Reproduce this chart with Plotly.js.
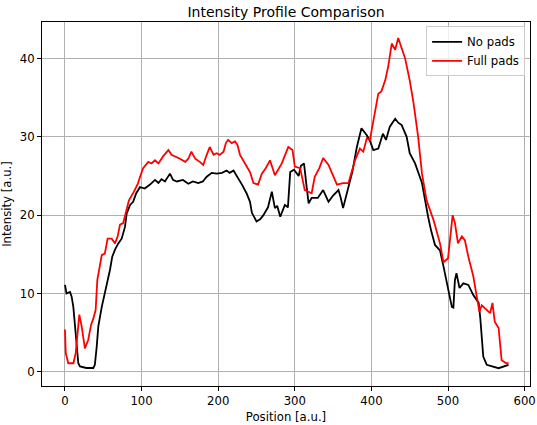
<!DOCTYPE html>
<html>
<head>
<meta charset="utf-8">
<script src="https://cdn.plot.ly/plotly-3.0.1.min.js"></script>
<style>html,body{margin:0;padding:0;background:#fff;}#chart{width:537px;height:425px;}</style>
</head>
<body>
<div id="chart"></div>
<script>
const noPadsX = [0,2,6.5,8.7,10.9,14,17.4,19.6,28,37,39,41.4,43.5,48,51,54.4,58.7,61.7,65.3,69.6,74,78.3,80.5,85,89,93,98,104,111,117.5,122,126,130.5,137,141,146,154,161,167,174,180,185,191.5,198,205,211,215,220,224,228.5,231,237,241.5,244,250,255,259,265,270,274,277,281,287,291,294,299,305,308,312,315,318,322,330,337,344,350,357,360,363,370,375,381,387,394,398,402.5,409,415,419,424,431,435,439.5,446,450,457,466,474,478,483,489.5,494,498,505,507,509,511,515,520,526.5,533,540,542,544,546,550.5,566,579];
const noPadsY = [11.1,10.0,10.2,9.6,8.3,4.9,1.1,0.7,0.5,0.5,0.9,3.2,5.8,8.3,9.6,11.3,13,14.7,15.6,16.4,17,18.5,20.2,21.3,21.7,22.8,23.6,23.4,23.9,24.5,24.1,24.6,24.3,25.3,24.5,24.3,24.5,24,24.3,24.1,24.3,24.9,25.4,25.3,25.4,25.7,25.4,25.7,25.1,24.3,23.9,22.8,21.7,20.3,19.2,19.5,20,21,23,20.9,21.2,19.8,21.3,21,25.5,25.8,25,26.3,26.6,24,21.5,22.2,22.2,23.2,21.7,22.5,23.2,22.2,20.9,23.6,25.5,28.7,31.1,30.2,29.5,28.3,28.5,30.4,29.6,31.3,32.3,31.8,31.5,30,27.9,26.6,24.1,19.8,18,16.2,15.5,13.5,11.7,8.3,8.2,11.7,12.6,10.7,11.3,11.1,9.8,8.8,7,4.5,1.95,0.9,0.47,0.9];

const fullPadsX = [0,1,4.3,11,14,16.6,18.7,21.8,26,30.4,34,37,40,42.2,45.7,48,52,55.7,61,65.3,68.8,71.8,76,79.2,83.5,90,95,98,102,108.7,113,117.5,122,128,135,139,144,150,157,161,165,170,176,180.5,185,189,194,198,202,207,210,213,217.6,222,225,228.5,235,241.5,246,252,257,262,267.6,274,283,291.5,297,300,307,313,322,326,332,337,344,348,355,363,370,378.6,385,389.4,394,398,402.5,409,413,418,422,426.5,431,435,439.5,444,450,455,461,466,472,481,489.5,494,500,502.6,506,509,513,518,522,526.5,533,537.5,541,544,550.5,555,558,561,566,570,576,579];
const fullPadsY = [5.4,2.4,1.1,1.1,2.4,5.8,7.3,5.8,3,4.1,6,6.8,7.9,11.7,13.9,14.9,15.1,17,17,16.4,17.3,18.8,19,20.4,21.9,23,24,24.9,26,26.8,26.6,27,26.6,27.5,28.3,27.7,27.5,27.2,26.8,27.2,28.1,27.2,26.8,26.4,27.7,28.7,27.7,27.9,27.7,28.1,29.2,29.6,29.2,29.4,29,27.7,26.6,25.5,24.1,23.9,25.3,26,27,25.1,26.6,28.7,28.3,26.2,26,23.2,22.8,24.9,26,27.3,26.4,25.5,23.9,24.1,24.1,27,28.5,28.1,29.8,29.6,32.1,35.5,35.8,37.2,39,41.9,41.1,42.6,41.3,40,37.2,34.3,30,25.3,21.9,19.4,16.4,14,14.5,17.3,20,19,16.4,17.3,16.8,14.7,12.2,9.6,7.7,8.5,7.9,7.5,8.8,6.4,5.6,1.5,1.1,1.1];

const xTicks = [0,100,200,300,400,500,600];
const yTicks = [0,10,20,30,40];

const font = {family: "DejaVu Sans", size: 11.7, color: "#000"};

const traces = [
  {x: noPadsX, y: noPadsY, type: "scatter", mode: "lines", name: "No pads",
   line: {color: "#000000", width: 1.8}},
  {x: fullPadsX, y: fullPadsY, type: "scatter", mode: "lines", name: "Full pads",
   line: {color: "#ff0000", width: 1.8}}
];

const axisCommon = {
  showline: true, linecolor: "#000", linewidth: 1, mirror: true,
  showgrid: true, gridcolor: "#b0b0b0", gridwidth: 1,
  ticks: "outside", ticklen: 4, tickcolor: "#000", tickwidth: 1,
  zeroline: false, tickfont: font
};

const layout = {
  width: 537, height: 425,
  margin: {l: 42, r: 7, t: 22, b: 39},
  paper_bgcolor: "#fff", plot_bgcolor: "#fff",
  font: font,
  title: {text: "Intensity Profile Comparison", font: {family: "DejaVu Sans", size: 14, color: "#000"},
          x: 0.5, xanchor: "center", y: 0.984, yanchor: "top", xref: "paper"},
  xaxis: Object.assign({}, axisCommon, {
    range: [-30, 607], tickvals: xTicks, ticktext: xTicks.map(String),
    title: {text: "Position [a.u.]", font: font, standoff: 5}
  }),
  yaxis: Object.assign({}, axisCommon, {
    range: [-1.8, 44.65], tickvals: yTicks, ticktext: yTicks.map(String),
    title: {text: "Intensity [a.u.]", font: font, standoff: 8}
  }),
  showlegend: true,
  legend: {x: 0.99, y: 0.988, xanchor: "right", yanchor: "top",
           bgcolor: "rgba(255,255,255,0.8)", bordercolor: "#cccccc", borderwidth: 1,
           font: font, tracegroupgap: 0}
};

Plotly.newPlot("chart", traces, layout, {displayModeBar: false, staticPlot: true});
</script>
</body>
</html>
